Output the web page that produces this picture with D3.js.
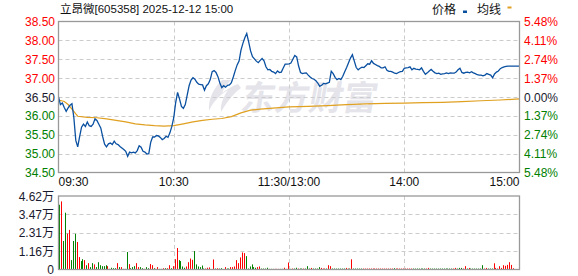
<!DOCTYPE html>
<html><head><meta charset="utf-8">
<script src="https://cdn.jsdelivr.net/npm/d3@7/dist/d3.min.js"></script>
<style>
html,body{margin:0;padding:0;background:#fff;}
svg{display:block;}
text{font-family:"Liberation Sans",Arial,"Noto Sans CJK SC",sans-serif;font-size:12px;}
</style></head>
<body><svg id="c" width="578" height="276"></svg>
<script>
// ---------- data ----------
const title = "立昂微[605358] 2025-12-12 15:00";
const prevClose = 36.50;
// price per minute, 0 = 09:30 ... 240 = 15:00
const prices = [
36.50,36.30,36.34,36.22,36.12,36.21,36.28,36.32,35.95,35.35,
35.18,35.45,35.70,35.78,35.72,35.84,35.74,35.72,35.78,35.92,
35.88,35.78,35.68,35.45,35.25,35.18,35.26,35.28,35.24,35.33,
35.26,35.24,35.19,35.15,35.11,35.06,34.93,35.04,35.02,35.04,
35.02,35.08,35.21,35.17,35.06,35.04,34.99,35.00,35.30,35.44,
35.44,35.48,35.47,35.43,35.37,35.40,35.46,35.43,35.55,35.72,
35.95,36.35,36.62,36.45,36.25,36.20,36.30,36.55,36.80,36.95,
37.01,36.97,36.89,36.84,36.83,36.82,36.68,36.80,36.85,36.96,
37.17,37.20,37.15,37.04,36.87,36.75,36.80,36.76,36.81,36.82,
36.88,37.03,37.20,37.35,37.45,37.74,37.92,38.07,38.18,37.96,
37.72,37.57,37.51,37.45,37.41,37.47,37.52,37.46,37.30,37.22,
37.23,37.18,37.16,37.12,37.19,37.15,37.16,37.27,37.37,37.37,
37.38,37.40,37.50,37.60,37.56,37.32,37.15,37.12,37.13,37.14,
37.08,37.03,36.99,36.97,36.93,36.87,36.78,36.81,36.86,36.85,
36.87,36.89,37.18,37.12,37.02,36.96,36.99,36.96,37.05,37.17,
37.28,37.41,37.53,37.62,37.45,37.28,37.22,37.26,37.29,37.28,
37.33,37.38,37.37,37.46,37.39,37.36,37.33,37.31,37.27,37.27,
37.30,37.21,37.18,37.18,37.16,37.13,37.12,37.15,37.17,37.18,
37.26,37.27,37.28,37.30,37.22,37.26,37.24,37.23,37.22,37.27,
37.18,37.10,37.14,37.19,37.23,37.18,37.14,37.12,37.13,37.10,
37.11,37.12,37.14,37.12,37.14,37.13,37.13,37.16,37.22,37.26,
37.15,37.13,37.15,37.16,37.14,37.17,37.14,37.12,37.09,37.08,
37.08,37.06,37.08,37.12,37.10,37.08,37.01,37.11,37.16,37.19,
37.25,37.28,37.30,37.31,37.32,37.32,37.32,37.32,37.32,37.32,
37.32
];
// average price line (minute, value)
const avgTimes  = [0,3,5,7,9,10,15,20,25,30,35,40,45,50,55,60,65,70,75,80,85,90,95,100,105,110,115,120,130,140,150,160,170,180,190,200,210,220,230,240];
const avgPrices = [36.42,36.38,36.30,36.18,36.05,35.99,35.96,35.95,35.92,35.88,35.84,35.79,35.76,35.74,35.73,35.74,35.79,35.84,35.88,35.91,35.93,35.98,36.08,36.15,36.18,36.20,36.22,36.24,36.25,36.27,36.30,36.32,36.33,36.34,36.35,36.36,36.38,36.40,36.42,36.45];
// volume per minute (万), minutes 1..240
const volumes = [
4.07,4.28,1.79,3.57,2.26,2.49,0.59,1.79,2.24,1.73,
0.78,0.53,0.65,0.59,0.27,0.40,0.15,0.40,0.32,0.15,
0.46,0.27,0.21,0.21,0.27,0.21,0.04,0.11,0.08,0.08,
0.40,0.15,0.15,0.04,0.04,1.10,0.34,0.08,0.15,0.21,
0.40,0.15,0.15,0.08,0.04,0.15,0.08,0.34,0.27,0.08,
0.04,0.15,0.04,0.04,0.08,0.08,0.08,0.27,0.08,0.21,
0.65,1.35,0.59,0.53,0.19,0.11,0.19,0.46,0.69,0.61,
1.16,0.32,0.19,0.15,0.25,0.06,0.06,0.11,0.13,0.02,
0.63,0.06,0.08,0.06,0.08,0.02,0.15,0.06,0.06,0.15,
0.15,0.19,0.59,0.40,0.76,1.07,1.03,0.84,0.06,0.19,
0.32,0.15,0.11,0.15,0.19,0.06,0.06,0.06,0.11,0.04,
0.04,0.04,0.04,0.04,0.04,0.04,0.04,0.11,0.04,0.44,
0.04,0.06,0.06,0.11,0.06,0.06,0.06,0.06,0.06,0.21,
0.06,0.10,0.06,0.06,0.06,0.15,0.10,0.06,0.06,0.06,
0.27,0.21,0.06,0.06,0.06,0.06,0.06,0.06,0.06,0.10,
0.06,0.06,0.64,0.06,0.06,0.06,0.06,0.06,0.06,0.06,
0.06,0.06,0.06,0.06,0.06,0.06,0.06,0.06,0.06,0.06,
0.06,0.06,0.06,0.06,0.08,0.06,0.06,0.06,0.06,0.06,
0.06,0.06,0.06,0.06,0.06,0.06,0.06,0.06,0.06,0.06,
0.06,0.06,0.10,0.06,0.06,0.06,0.06,0.06,0.06,0.06,
0.06,0.06,0.06,0.06,0.06,0.06,0.10,0.06,0.10,0.10,
0.06,0.21,0.06,0.10,0.06,0.06,0.06,0.06,0.06,0.06,
0.27,0.06,0.10,0.06,0.06,0.06,0.39,0.10,0.06,0.21,
0.10,0.27,0.23,0.29,0.46,0.29,0.08,0.00,0.00,0.95
];
// direction of each volume bar: R = up (red), G = down (green)
const volDir = (
"GRGGRRGGGR" + "RGGRGRGGRG" + "GGGGGRRGGG" + "RGRGRGRGGG" +
"RRGGRGGRRG" + "RRGGRGRRGR" + "RRGGGGRRRR" + "GGGGGGRRRR" +
"RGRGGRRGGR" + "RRRRRRRGGG" + "GGGRRGGGGG" + "GGRRRGGRRR" +
"GRGGRGGRGG" + "GRGGGGRRRG" + "RRGGGGGGGR" + "RGRGGGGGRR" +
"RRRRRRRRRR" + "RRRRGRRRRR" + "RRRRGGGGGG" + "GRRGGGGGGG" +
"GGGGGRRGGG" + "RRGRGGGGGG" + "GRRGGGRRRR" + "RRRRRRRRRR").split("");

const priceTicks = [38.5,38.0,37.5,37.0,36.5,36.0,35.5,35.0,34.5];
const priceTickLabels = ["38.50","38.00","37.50","37.00","36.50","36.00","35.50","35.00","34.50"];
const pctTickLabels = ["5.48%","4.11%","2.74%","1.37%","0.00%","1.37%","2.74%","4.11%","5.48%"];
const volTicks = [4.62,3.465,2.31,1.155,0];
const volTickLabels = ["4.62万","3.47万","2.31万","1.16万","0"];
const timeTicks = [0,60,120,180,240];
const timeLabels = ["09:30","10:30","11:30/13:00","14:00","15:00"];
const legendLabels = ["价格","均线"];
const watermark = "东方财富";

// ---------- layout ----------
const L = 58.5, R = 519.5;
const PT = 21.5, PB = 172.5;
const VT = 196, VB = 269.5;
const RED = "#ff0000", GREEN = "#008000", DARK = "#1a1a2e";
const LINE = "#0a50a1", AVG = "#e0a020";

const svg = d3.select("#c");
const x = d3.scaleLinear().domain([0,240]).range([L,R]);
const y = d3.scaleLinear().domain([34.5,38.5]).range([PB,PT]);
const yv = d3.scaleLinear().domain([0,4.62]).range([VB,VT]);

// title
svg.append("text").attr("x",60).attr("y",13).attr("fill","#111")
  .style("font-size","11.5px").text(title);
// legend
svg.append("text").attr("x",432).attr("y",14).attr("fill","#111").text(legendLabels[0]);
svg.append("rect").attr("x",463).attr("y",10.5).attr("width",4).attr("height",2.5).attr("fill",LINE);
svg.append("text").attr("x",477).attr("y",14).attr("fill","#111").text(legendLabels[1]);
svg.append("rect").attr("x",507.5).attr("y",6.5).attr("width",4).attr("height",2).attr("fill",AVG);

// watermark
const wm = svg.append("g").attr("fill","#e4e4ea");
wm.append("path").attr("d","M222,80 C214,88 208,98 209,111 C212,104 218,96 228,90 C224,96 220,104 221,112 C228,100 235,92 241,88 L238,84 C232,86 226,90 222,93 C224,88 227,84 231,80 Z");
wm.append("text").attr("x",240).attr("y",110)
  .style("font-size","34px").style("font-weight","bold")
  .style("font-family","'Noto Sans CJK SC'")
  .attr("transform","translate(19,0) skewX(-10)")
  .text(watermark);

// gridlines
const dash = "4,3";
const grid = svg.append("g").attr("stroke","#cccccc").attr("stroke-dasharray",dash).attr("stroke-width",1);
priceTicks.slice(1,-1).forEach(v=>{
  const yy = Math.round(y(v))+0.5;
  grid.append("line").attr("x1",L).attr("x2",R).attr("y1",yy).attr("y2",yy);
});
timeTicks.slice(1,-1).forEach(t=>{
  const xx = Math.round(x(t))+0.5;
  grid.append("line").attr("x1",xx).attr("x2",xx).attr("y1",PT).attr("y2",PB);
  grid.append("line").attr("x1",xx).attr("x2",xx).attr("y1",VT).attr("y2",VB);
});
volTicks.slice(1,-1).forEach(v=>{
  const yy = Math.round(yv(v))+0.5;
  grid.append("line").attr("x1",L).attr("x2",R).attr("y1",yy).attr("y2",yy);
});

// volume bars
svg.append("g").selectAll("rect").data(volumes).join("rect")
  .attr("x",(d,i)=>Math.round(x(i+1))-1)
  .attr("width",1)
  .attr("y",d=>yv(d))
  .attr("height",d=>Math.max(0,VB-yv(d)))
  .attr("fill",(d,i)=>volDir[i]==="R"?RED:GREEN);

// avg line
svg.append("path")
  .attr("d",d3.line().x((d,i)=>x(avgTimes[i])).y(d=>y(d))(avgPrices))
  .attr("fill","none").attr("stroke",AVG).attr("stroke-width",1.2);
// price line
svg.append("path")
  .attr("d",d3.line().x((d,i)=>x(i)).y(d=>y(d))(prices))
  .attr("fill","none").attr("stroke",LINE).attr("stroke-width",1.3);

// frames
svg.append("rect").attr("x",L).attr("y",PT).attr("width",R-L).attr("height",PB-PT)
  .attr("fill","none").attr("stroke","#999").attr("stroke-width",1.3);
svg.append("rect").attr("x",L).attr("y",VT).attr("width",R-L).attr("height",VB-VT)
  .attr("fill","none").attr("stroke","#999").attr("stroke-width",1.3);

// price / percent labels
const colorFor = v => v>prevClose?RED:(v<prevClose?GREEN:DARK);
priceTicks.forEach((v,i)=>{
  svg.append("text").attr("x",55).attr("y",y(v)+4.5).attr("text-anchor","end")
    .attr("fill",colorFor(v)).text(priceTickLabels[i]);
  svg.append("text").attr("x",524).attr("y",y(v)+4.5).attr("text-anchor","start")
    .attr("fill",colorFor(v)).text(pctTickLabels[i]);
});
// volume labels
volTicks.forEach((v,i)=>{
  svg.append("text").attr("x",54).attr("y",yv(v)+4.5).attr("text-anchor","end")
    .attr("fill",DARK).text(volTickLabels[i]);
});
// time labels
timeTicks.forEach((t,i)=>{
  svg.append("text").attr("x",x(t)).attr("y",186)
    .attr("text-anchor", i===0?"start":(i===timeTicks.length-1?"end":"middle"))
    .attr("fill","#111").text(timeLabels[i]);
});
</script></body></html>
